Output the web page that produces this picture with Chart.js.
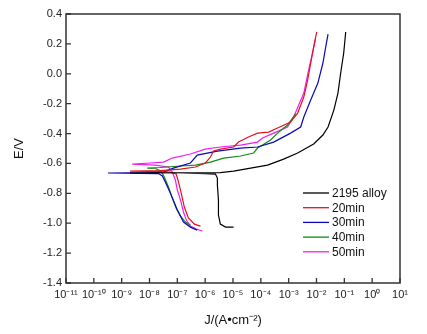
<!DOCTYPE html>
<html>
<head>
<meta charset="utf-8">
<script src="https://cdn.jsdelivr.net/npm/chart.js@4.4.1/dist/chart.umd.min.js"></script>
<style>
  html, body { margin: 0; padding: 0; background: #ffffff; }
  #wrap { width: 427px; height: 334px; position: relative; }
</style>
</head>
<body>
<div id="wrap"><canvas id="c" width="427" height="334"></canvas></div>
<script>
// ---- data (J in A·cm^-2, E in V) ----
const seriesNames = ['2195 alloy', '20min', '30min', '40min', '50min'];
const seriesColors = ['#000000', '#e0141e', '#0a0ab4', '#138a13', '#f01ef0'];

const J_2195 = [1.05e-5, 5.4e-6, 3.5e-6, 3.0e-6, 3.0e-6, 2.75e-6, 2.75e-6, 2.34e-6, 1.0e-6, 1.3e-7, 2.0e-9,
                3.5e-6, 1.05e-5, 4.3e-5, 1.74e-4, 6.6e-4, 2.1e-3, 7.9e-3, 1.7e-2, 2.6e-2, 4.2e-2, 5.9e-2, 7.4e-2, 9.5e-2, 0.112];
const E_2195 = [-1.026, -1.026, -1.006, -0.945, -0.845, -0.745, -0.698, -0.671, -0.668, -0.664, -0.664,
                -0.661, -0.651, -0.631, -0.611, -0.571, -0.530, -0.470, -0.410, -0.356, -0.243, -0.129, 0.005, 0.139, 0.280];

const J_20 = [6.8e-7, 4.1e-7, 2.5e-7, 1.78e-7, 1.38e-7, 1.1e-7, 9.1e-8, 5.6e-8, 1.07e-8, 2.0e-9,
              2.45e-8, 1.3e-7, 4.5e-7, 1.02e-6, 1.55e-6, 2.0e-6, 3.5e-6, 1.05e-5, 1.58e-5, 3.6e-5, 7.6e-5, 1.9e-4,
              4.0e-4, 1.17e-3, 2.1e-3, 3.5e-3, 4.8e-3, 6.2e-3, 7.9e-3, 1.02e-2];
const E_20 = [-1.019, -1.006, -0.965, -0.892, -0.798, -0.724, -0.671, -0.658, -0.654, -0.651,
              -0.648, -0.638, -0.624, -0.597, -0.557, -0.517, -0.504, -0.490, -0.457, -0.423, -0.397, -0.390,
              -0.363, -0.323, -0.263, -0.156, -0.042, 0.072, 0.179, 0.280];

const J_30 = [5.2e-7, 2.95e-7, 1.66e-7, 1.0e-7, 5.6e-8, 3.7e-8, 2.9e-8, 2.1e-8, 3.2e-10,
              1.07e-8, 3.2e-8, 7.2e-8, 2.95e-7, 5.2e-7, 2.75e-6, 1.86e-5, 7.6e-5, 2.9e-4, 1.17e-3, 2.7e-3,
              3.5e-3, 6.2e-3, 1.12e-2, 1.7e-2, 2.14e-2, 2.6e-2];
const E_30 = [-1.046, -1.026, -0.992, -0.912, -0.798, -0.724, -0.684, -0.668, -0.664,
              -0.661, -0.658, -0.631, -0.597, -0.544, -0.517, -0.497, -0.490, -0.457, -0.397, -0.356,
              -0.289, -0.176, -0.062, 0.072, 0.179, 0.266];

const J_40 = [2.95e-7, 1.95e-7, 1.3e-7, 9.1e-8, 6.6e-8, 4.8e-8, 3.4e-8, 2.6e-8, 1.6e-8, 8.3e-9,
              2.45e-8, 1.3e-7, 4.5e-7, 1.55e-6, 4.6e-6, 1.86e-5, 5.5e-5, 7.6e-5, 1.15e-4, 2.24e-4, 4.0e-4, 9.1e-4, 1.78e-3];
const E_40 = [-1.012, -0.992, -0.952, -0.899, -0.832, -0.758, -0.691, -0.651, -0.634, -0.631,
              -0.627, -0.617, -0.611, -0.591, -0.564, -0.550, -0.530, -0.497, -0.477, -0.443, -0.397, -0.343, -0.269];

const J_50 = [7.9e-7, 4.8e-7, 2.95e-7, 2.1e-7, 1.66e-7, 1.3e-7, 1.0e-7, 8.5e-8, 6.6e-8, 4.8e-8, 1.6e-8, 2.4e-9,
              1.07e-8, 3.2e-8, 6.6e-8, 2.95e-7, 1.0e-6, 3.5e-6, 1.86e-5, 7.6e-5, 1.15e-4, 2.9e-4, 9.1e-4, 1.51e-3,
              2.3e-3, 3.5e-3, 5.2e-3, 7.2e-3, 9.3e-3];
const E_50 = [-1.052, -1.039, -1.019, -0.979, -0.925, -0.845, -0.778, -0.711, -0.658, -0.624, -0.611, -0.604,
              -0.597, -0.591, -0.564, -0.537, -0.504, -0.490, -0.477, -0.457, -0.430, -0.397, -0.356, -0.289,
              -0.209, -0.129, 0.025, 0.139, 0.239];

const xTickValues = [1e-11, 1e-10, 1e-9, 1e-8, 1e-7, 1e-6, 1e-5, 1e-4, 1e-3, 1e-2, 1e-1, 1e0, 1e1];
const yMin = -1.4, yMax = 0.4, yStep = 0.2;

// ---- build datasets ----
const seriesJ = [J_2195, J_20, J_30, J_40, J_50];
const seriesE = [E_2195, E_20, E_30, E_40, E_50];
const datasets = seriesNames.map((name, i) => ({
  label: name,
  data: seriesJ[i].map((j, k) => ({ x: j, y: seriesE[i][k] })),
  borderColor: seriesColors[i],
  backgroundColor: seriesColors[i],
  borderWidth: 1.2,
  pointRadius: 0,
  showLine: true,
  tension: 0,
  fill: false
}));

const SUP = { '-': '\u207B', '0': '\u2070', '1': '\u00B9', '2': '\u00B2', '3': '\u00B3', '4': '\u2074',
              '5': '\u2075', '6': '\u2076', '7': '\u2077', '8': '\u2078', '9': '\u2079' };
function decadeLabel(v) {
  const e = String(Math.round(Math.log10(v)));
  return '10' + e.split('').map(ch => SUP[ch]).join('');
}

const FONT = '"Liberation Sans", Arial, sans-serif';

const framePlugin = {
  id: 'frame',
  afterDraw(chart) {
    const { ctx, chartArea: a, scales } = chart;
    ctx.save();
    ctx.strokeStyle = '#333333';
    ctx.lineWidth = 1.3;
    // inward tick marks
    ctx.beginPath();
    scales.x.ticks.forEach(t => {
      const px = scales.x.getPixelForValue(t.value);
      ctx.moveTo(px, a.bottom); ctx.lineTo(px, a.bottom - 5);
    });
    scales.y.ticks.forEach(t => {
      const py = scales.y.getPixelForValue(t.value);
      ctx.moveTo(a.left, py); ctx.lineTo(a.left + 5, py);
    });
    ctx.stroke();
    ctx.lineWidth = 1.5;
    ctx.strokeRect(a.left, a.top, a.right - a.left, a.bottom - a.top);
    // legend inside the plot area
    ctx.font = '12px ' + FONT;
    ctx.textBaseline = 'middle';
    ctx.textAlign = 'left';
    chart.data.datasets.forEach((ds, i) => {
      const y = 193 + i * 14.7;
      ctx.strokeStyle = ds.borderColor;
      ctx.lineWidth = 1.3;
      ctx.beginPath(); ctx.moveTo(303, y); ctx.lineTo(329, y); ctx.stroke();
      ctx.fillStyle = '#111111';
      ctx.fillText(ds.label, 332, y + 0.5);
    });
    ctx.restore();
  }
};

new Chart(document.getElementById('c'), {
  type: 'scatter',
  data: { datasets },
  options: {
    responsive: false,
    animation: false,
    layout: { padding: { top: 14, right: 27, left: 0, bottom: 0 } },
    plugins: { legend: { display: false }, tooltip: { enabled: false } },
    scales: {
      x: {
        type: 'logarithmic',
        min: 1e-11, max: 10,
        afterBuildTicks: s => { s.ticks = xTickValues.map(v => ({ value: v })); },
        afterFit: s => { s.height = 51; },
        grid: { display: false, drawTicks: false },
        border: { display: false },
        ticks: {
          autoSkip: false, maxRotation: 0, padding: 5,
          color: '#222', font: { family: FONT, size: 11 },
          callback: v => decadeLabel(v)
        },
        title: {
          display: true, text: 'J/(A\u2022cm\u207B\u00B2)', color: '#111',
          font: { family: FONT, size: 13 }, padding: { top: 0, bottom: 6 }
        }
      },
      y: {
        min: yMin, max: yMax,
        afterFit: s => { s.width = 66; },
        grid: { display: false, drawTicks: false },
        border: { display: false },
        ticks: {
          stepSize: yStep, padding: 4, color: '#222',
          font: { family: FONT, size: 11 },
          callback: v => Number(v).toFixed(1)
        },
        title: {
          display: true, text: 'E/V', color: '#111',
          font: { family: FONT, size: 13 }, padding: { top: 12, bottom: 0 }
        }
      }
    }
  },
  plugins: [framePlugin]
});
</script>
</body>
</html>
